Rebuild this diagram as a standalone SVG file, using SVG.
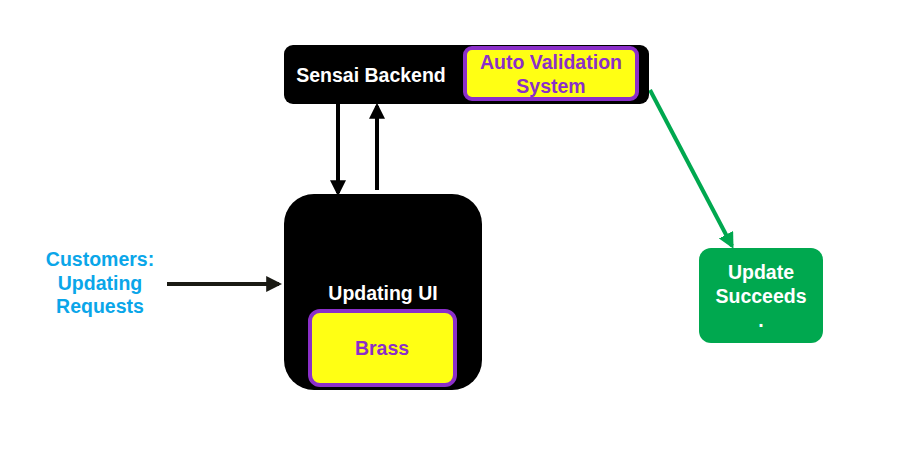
<svg xmlns="http://www.w3.org/2000/svg" width="902" height="475" viewBox="0 0 902 475">
<style>
text{font-family:"Liberation Sans",Arial,sans-serif;font-weight:bold;text-anchor:middle;font-size:19.5px;}
.w{fill:#ffffff;}
.p{fill:#8B2FC9;}
.b{fill:#0AA6E9;}
.inner{fill:#FFFF14;stroke:#8B2FC9;stroke-width:4;}
</style>
<defs>
<marker id="ak" markerWidth="4" markerHeight="4" refX="3.2" refY="2" orient="auto" markerUnits="strokeWidth"><path d="M0,0 L4,2 L0,4 Z" fill="#000"/></marker>
<marker id="ad" markerWidth="4" markerHeight="4" refX="3.2" refY="2" orient="auto" markerUnits="strokeWidth"><path d="M0,0 L4,2 L0,4 Z" fill="#1a1a14"/></marker>
<marker id="ag" markerWidth="4" markerHeight="4" refX="3.2" refY="2" orient="auto" markerUnits="strokeWidth"><path d="M0,0 L4,2 L0,4 Z" fill="#00A84F"/></marker>
</defs>
<rect width="902" height="475" fill="#ffffff"/>
<g id="connectors" fill="none" stroke-width="4">
<line x1="338" y1="104" x2="338" y2="193" stroke="#000" marker-end="url(#ak)"/>
<line x1="377" y1="190" x2="377" y2="106" stroke="#000" marker-end="url(#ak)"/>
<line x1="167" y1="284" x2="279" y2="284" stroke="#1a1a14" marker-end="url(#ad)"/>
<line x1="650" y1="90" x2="732" y2="246" stroke="#00A84F" marker-end="url(#ag)"/>
</g>
<g id="backend">
<rect x="284" y="45" width="365" height="59" rx="9" fill="#000"/>
<text class="w" x="371" y="82">Sensai Backend</text>
</g>
<g id="autovalidation">
<rect class="inner" x="465" y="48" width="172" height="51" rx="7" stroke-width="3"/>
<text class="p" x="551" y="69">Auto Validation</text>
<text class="p" x="551" y="93">System</text>
</g>
<g id="updatingui">
<rect x="284" y="194" width="198" height="196" rx="30" fill="#000"/>
<text class="w" x="383" y="300">Updating UI</text>
</g>
<g id="brass">
<rect class="inner" x="310" y="311" width="145" height="74" rx="10"/>
<text class="p" x="382" y="355">Brass</text>
</g>
<g id="customers">
<text class="b" x="100" y="266">Customers:</text>
<text class="b" x="100" y="290">Updating</text>
<text class="b" x="100" y="313">Requests</text>
</g>
<g id="succeeds">
<rect x="699" y="248" width="124" height="95" rx="12" fill="#00A84F"/>
<text class="w" x="761" y="279">Update</text>
<text class="w" x="761" y="303">Succeeds</text>
<text class="w" x="761" y="327">.</text>
</g>
</svg>
